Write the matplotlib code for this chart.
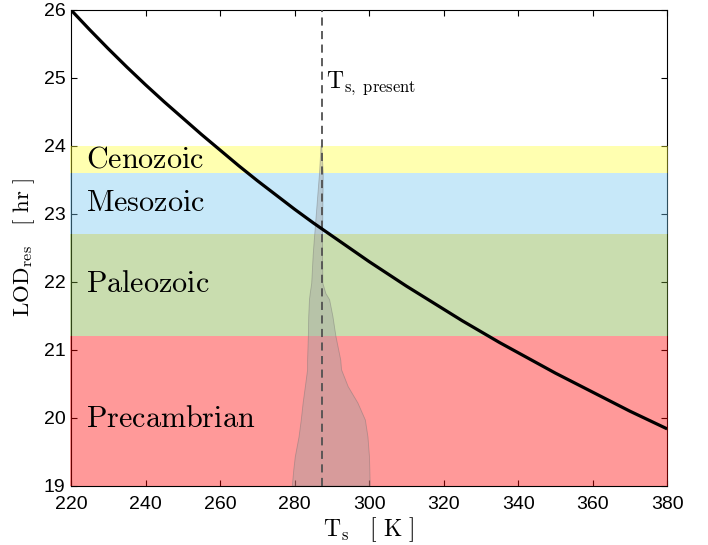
import matplotlib
matplotlib.use("Agg")
import matplotlib.pyplot as plt

plt.rcParams["mathtext.fontset"] = "cm"
plt.rcParams["font.family"] = ["Liberation Sans", "DejaVu Sans"]

# Residual length of day vs. surface temperature
temp_k = [220, 225, 230, 235, 240, 245, 250, 255, 260, 265, 270, 275, 280,
          285, 290, 295, 300, 305, 310, 315, 320, 325, 330, 335, 340, 345,
          350, 355, 360, 365, 370, 375, 380]
lod_hr = [26.00, 25.71, 25.43, 25.16, 24.90, 24.65, 24.41, 24.17, 23.94,
          23.71, 23.49, 23.28, 23.07, 22.87, 22.68, 22.49, 22.30, 22.12,
          21.94, 21.77, 21.60, 21.43, 21.27, 21.11, 20.96, 20.81, 20.66,
          20.52, 20.38, 20.24, 20.10, 19.97, 19.84]

# Geological eras (LOD ranges)
era_names = ["Precambrian", "Paleozoic", "Mesozoic", "Cenozoic"]
era_lo = [19.0, 21.2, 22.7, 23.6]
era_hi = [21.2, 22.7, 23.6, 24.0]
era_colors = ["#ff0000", "#7aab38", "#75c6f0", "#ffff3a"]
era_label_y = [19.98, 21.97, 23.16, 23.80]

# Temperature distribution envelope across LOD
dist_y = [19.00, 19.24, 19.43, 19.72, 19.97, 20.22, 20.46, 20.71, 20.85,
          21.20, 21.49, 21.74, 21.83, 21.98, 22.40, 22.62, 23.11, 23.60, 24.00]
dist_left = [279.4, 279.8, 280.2, 281.2, 281.8, 282.3, 282.9, 283.5, 283.5,
             283.7, 283.8, 284.0, 284.2, 284.6, 285.0, 285.3, 286.0, 286.7, 287.1]
dist_right = [300.3, 300.2, 300.1, 299.7, 299.0, 297.0, 294.4, 292.6, 292.4,
              291.1, 290.3, 289.4, 288.4, 287.6, 287.5, 287.5, 287.6, 287.7, 287.3]

t_present = 287.3

x_ticks = [220, 240, 260, 280, 300, 320, 340, 360, 380]
y_ticks = [19, 20, 21, 22, 23, 24, 25, 26]

fig = plt.figure(figsize=(7.08, 5.45), dpi=100)
ax = fig.add_axes([0.1003, 0.1083, 0.842, 0.8734])

for name, lo, hi, col, ly in zip(era_names, era_lo, era_hi, era_colors, era_label_y):
    ax.axhspan(lo, hi, xmin=-0.002, xmax=1.002, color=col, alpha=0.4,
               lw=0, zorder=3, clip_on=False)
    ax.text(224.0, ly, r"$\mathrm{%s}$" % name, fontsize=21.7, va="center",
            ha="left", zorder=7)

poly_x = list(dist_left) + list(dist_right[::-1])
poly_y = list(dist_y) + list(dist_y[::-1])
ax.fill(poly_x, poly_y, facecolor="#a0a0a0", alpha=0.42, edgecolor="#707070",
        lw=0.6, zorder=4)

ax.axvline(t_present, color="#505050", lw=1.3, ls=(0, (4.5, 3)), zorder=5)
ax.text(t_present + 1.2, 24.93, r"$\mathrm{T}_{\mathrm{s,\ present}}$",
        fontsize=17, va="center", ha="left", zorder=7)

ax.plot(temp_k, lod_hr, color="black", lw=2.3, zorder=6,
        solid_capstyle="butt")

ax.set_xlim(220, 380)
ax.set_ylim(19, 26)
ax.set_xticks(x_ticks)
ax.set_yticks(y_ticks)
ax.tick_params(direction="in", length=4, width=0.8, top=True, right=True,
               labelsize=14)
ax.tick_params(axis="x", pad=7)
ax.tick_params(axis="y", pad=4)
for sp in ax.spines.values():
    sp.set_linewidth(0.8)

ax.set_xlabel(r"$\mathrm{T}_{\mathrm{s}}\quad[\ \mathrm{K}\ ]$", fontsize=17,
              labelpad=2)
ax.set_ylabel(r"$\mathrm{LOD}_{\mathrm{res}}\quad[\ \mathrm{hr}\ ]$",
              fontsize=16.5, labelpad=5)

fig.savefig("out.png", dpi=100)
